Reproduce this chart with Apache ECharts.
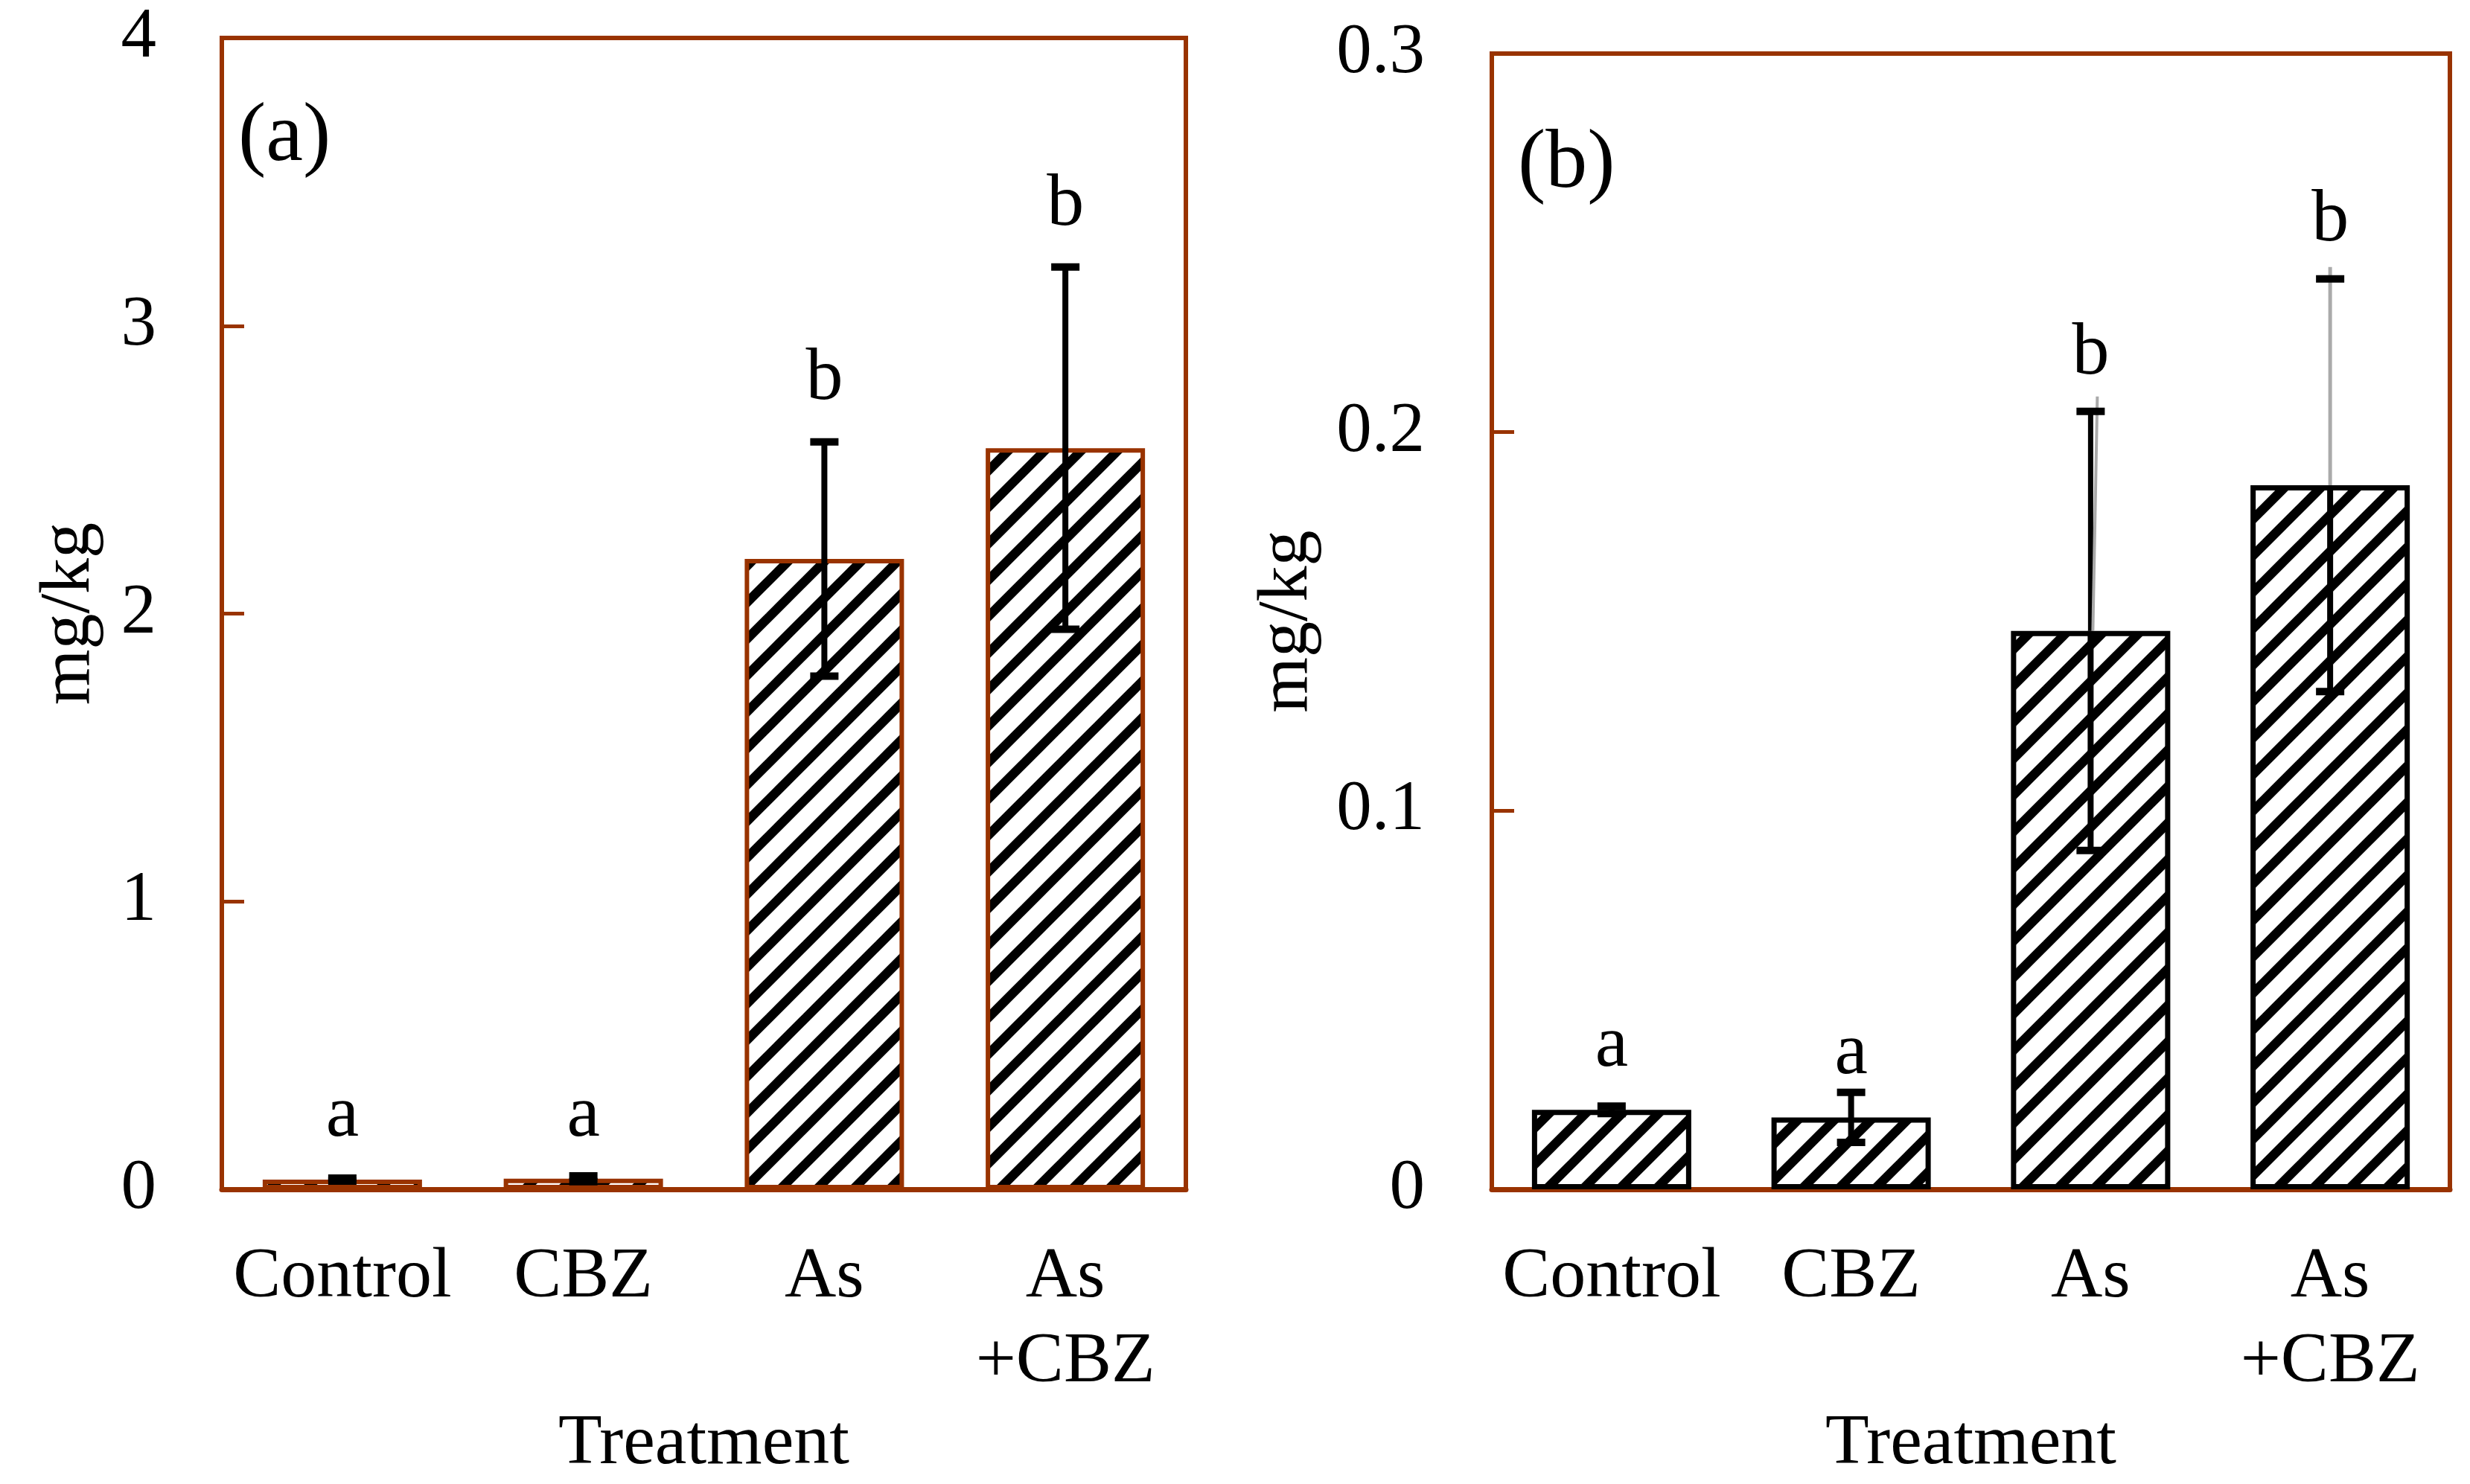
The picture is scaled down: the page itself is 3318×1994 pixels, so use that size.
<!DOCTYPE html>
<html><head><meta charset="utf-8">
<script src="https://cdn.jsdelivr.net/npm/echarts@6/dist/echarts.min.js"></script>
<style>html,body{margin:0;padding:0;background:#fff}#c{width:3318px;height:1994px}</style>
</head><body><div id="c"></div>
<script>
const categories = ['Control', 'CBZ', 'As', 'As\n+CBZ'];
const meanA = [0.034, 0.037, 2.19, 2.575];
const errA = [0.005, 0.010, 0.407, 0.629];
const letterA = ['a', 'a', 'b', 'b'];
const letterYA = [0.179, 0.179, 2.74, 3.345];
const meanB = [0.021, 0.019, 0.1475, 0.186];
const errB = [0.001, 0.0066, 0.058, 0.0545];
const letterB = ['a', 'a', 'b', 'b'];
const letterYB = [0.0321, 0.0302, 0.215, 0.2502];
const yTicksA = ['0', '1', '2', '3', '4'];
const yTicksB = ['0', '0.1', '0.2', '0.3'];

const FONT = '"Liberation Serif", "Times New Roman", serif';
const BROWN = '#993300';

function hatch() {
  const P = 49;
  const c = document.createElement('canvas');
  c.width = P; c.height = P;
  const g = c.getContext('2d');
  g.fillStyle = '#fff'; g.fillRect(0, 0, P, P);
  g.strokeStyle = '#000'; g.lineWidth = 12.5; g.lineCap = 'butt';
  for (const k of [0, P, 2 * P]) {
    g.beginPath(); g.moveTo(-20, k + 20); g.lineTo(P + 20, k - P - 20); g.stroke();
  }
  return c;
}
const pattern = { image: hatch(), repeat: 'repeat' };

function errRender(letters, letterY, panel) {
  return function (params, api) {
    const i = api.value(0), m = api.value(1), e = api.value(2);
    const top = api.coord([i, m + e]);
    const bot = api.coord([i, m - e]);
    const mid = api.coord([i, m]);
    const lab = api.coord([i, letterY[params.dataIndex]]);
    const x = top[0], hw = 19;
    const ch = [];
    const greyUpper = panel === 'b' && i >= 2;
    if (greyUpper) {
      ch.push({ type: 'line', shape: { x1: x, y1: mid[1], x2: x, y2: bot[1] }, style: { stroke: '#000', lineWidth: 8 } });
      if (i === 2) {
        ch.push({ type: 'line', shape: { x1: x, y1: top[1], x2: x, y2: mid[1] }, style: { stroke: '#000', lineWidth: 7 } });
        ch.push({ type: 'line', shape: { x1: x + 9, y1: top[1] - 20, x2: x + 3, y2: mid[1] }, style: { stroke: '#aaaaaa', lineWidth: 4 } });
      } else {
        ch.push({ type: 'line', shape: { x1: x, y1: top[1] - 16, x2: x, y2: mid[1] }, style: { stroke: '#aaaaaa', lineWidth: 5 } });
      }
    } else {
      ch.push({ type: 'line', shape: { x1: x, y1: top[1], x2: x, y2: bot[1] }, style: { stroke: '#000', lineWidth: 8 } });
    }
    ch.push({ type: 'line', shape: { x1: x - hw, y1: top[1], x2: x + hw, y2: top[1] }, style: { stroke: '#000', lineWidth: 10 } });
    ch.push({ type: 'line', shape: { x1: x - hw, y1: bot[1], x2: x + hw, y2: bot[1] }, style: { stroke: '#000', lineWidth: 10 } });
    ch.push({
      type: 'text', x: x, y: lab[1] + 21,
      style: { text: letters[params.dataIndex], fontSize: 100, fontFamily: FONT, fill: '#000', textAlign: 'center', textVerticalAlign: 'bottom' }
    });
    return { type: 'group', children: ch };
  };
}

function xAxisCfg(gi) {
  return {
    type: 'category', gridIndex: gi, data: categories,
    name: 'Treatment', nameLocation: 'middle', nameGap: 266,
    nameTextStyle: { fontSize: 96, fontFamily: FONT, color: '#000' },
    axisLine: { lineStyle: { color: BROWN, width: 7 } },
    axisTick: { show: false },
    axisLabel: { interval: 0, fontSize: 96, lineHeight: 114, margin: 62, fontFamily: FONT, color: '#000' }
  };
}
function yAxisCfg(gi, max, interval, ticks, nameGap, margin) {
  return {
    type: 'value', gridIndex: gi, min: 0, max: max, interval: interval,
    name: 'mg/kg', nameLocation: 'middle', nameRotate: 90, nameGap: nameGap,
    nameTextStyle: { fontSize: 96, fontFamily: FONT, color: '#000' },
    axisLine: { show: true, lineStyle: { color: BROWN, width: 6 } },
    axisTick: { show: true, inside: true, length: 30, lineStyle: { color: BROWN, width: 5 } },
    splitLine: { show: false },
    axisLabel: { fontSize: 95, margin: margin, fontFamily: FONT, color: '#000',
      formatter: function (v, idx) { return ticks[idx]; } }
  };
}

const chart = echarts.init(document.getElementById('c'), null, { renderer: 'canvas' });
chart.setOption({
  backgroundColor: '#fff',
  animation: false,
  grid: [
    { left: 298, top: 51, width: 1295, height: 1561, show: true, borderColor: BROWN, borderWidth: 6, backgroundColor: 'transparent' },
    { left: 2004, top: 72, width: 1287, height: 1543, show: true, borderColor: BROWN, borderWidth: 6, backgroundColor: 'transparent' }
  ],
  xAxis: [xAxisCfg(0), xAxisCfg(1)],
  yAxis: [yAxisCfg(0, 4, 1, yTicksA, 156, 88), yAxisCfg(1, 0.3, 0.1, yTicksB, 226, 90)],
  graphic: [
    { type: 'text', left: 320, top: 130, style: { text: '(a)', fontSize: 112, fontFamily: FONT, fill: '#000' } },
    { type: 'text', left: 2039, top: 166, style: { text: '(b)', fontSize: 112, fontFamily: FONT, fill: '#000' } }
  ],
  series: [
    { type: 'bar', xAxisIndex: 0, yAxisIndex: 0, data: meanA, barWidth: 214,
      itemStyle: { color: pattern, borderColor: BROWN, borderWidth: 6 } },
    { type: 'custom', xAxisIndex: 0, yAxisIndex: 0, z: 5,
      data: meanA.map((m, i) => [i, m, errA[i]]), renderItem: errRender(letterA, letterYA, 'a') },
    { type: 'bar', xAxisIndex: 1, yAxisIndex: 1, data: meanB, barWidth: 214,
      itemStyle: { color: pattern, borderColor: '#000', borderWidth: 7 } },
    { type: 'custom', xAxisIndex: 1, yAxisIndex: 1, z: 5,
      data: meanB.map((m, i) => [i, m, errB[i]]), renderItem: errRender(letterB, letterYB, 'b') }
  ]
});
</script></body></html>
